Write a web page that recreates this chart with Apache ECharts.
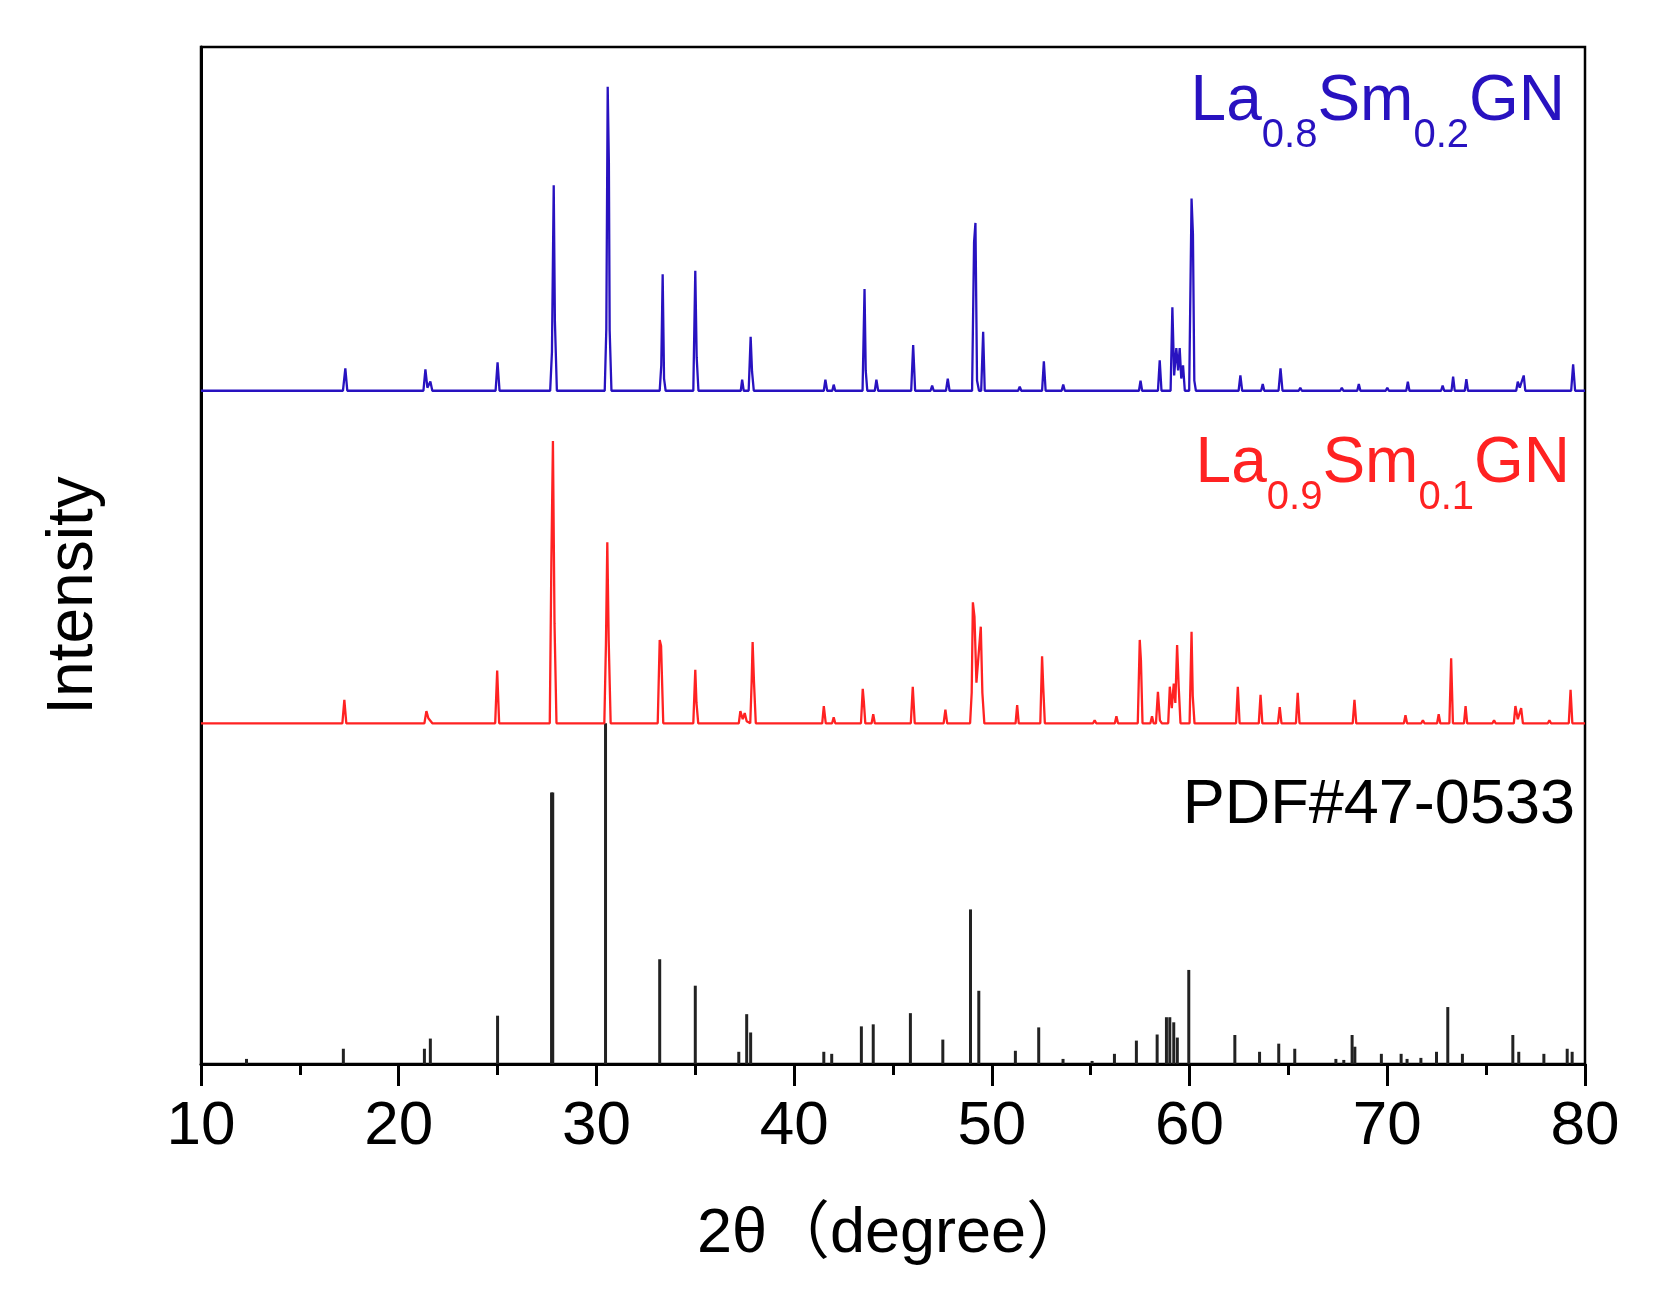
<!DOCTYPE html>
<html>
<head>
<meta charset="utf-8">
<script src="https://cdn.jsdelivr.net/npm/echarts@6/dist/echarts.min.js"></script>
<style>html,body{margin:0;padding:0;background:#fff;}#chart{width:1665px;height:1311px;}</style>
</head>
<body>
<div id="chart"></div>
<script>
// ---- data (2θ in degrees, intensity in arbitrary units above each pattern's baseline) ----
const xTicks = [10, 20, 30, 40, 50, 60, 70, 80];

// La0.8Sm0.2GN measured pattern [2θ, intensity]
const sm02Pattern = [
[10,0],[17.18,0],[17.3,2.2],[17.4,0],
[21.25,0],[21.35,2.1],[21.45,0.3],[21.6,0.9],[21.7,0],
[24.9,0],[25.0,2.8],[25.1,0],
[27.66,0],[27.75,3.8],[27.84,20.2],[27.9,6.8],[28.0,0],
[30.42,0],[30.5,6.1],[30.57,29.9],[30.63,22.4],[30.67,5.9],[30.76,0],
[33.2,0],[33.28,2.5],[33.35,11.45],[33.42,1.2],[33.5,0],
[34.9,0],[35.0,11.8],[35.07,3.3],[35.16,0],
[37.3,0],[37.37,1.1],[37.45,0],
[37.7,0],[37.8,5.3],[37.87,1.9],[37.96,0],
[41.5,0],[41.58,1.1],[41.67,0],
[41.93,0],[42.0,0.6],[42.08,0],
[43.46,0],[43.56,10.0],[43.62,2.0],[43.7,0],
[44.08,0],[44.16,1.1],[44.25,0],
[45.92,0],[46.02,4.5],[46.12,0],
[46.9,0],[46.98,0.5],[47.06,0],
[47.68,0],[47.77,1.2],[47.86,0],
[49.0,0],[49.1,14.6],[49.17,16.5],[49.25,1.0],[49.35,0],
[49.46,0],[49.56,5.8],[49.64,0],
[51.33,0],[51.41,0.4],[51.49,0],
[52.54,0],[52.63,2.9],[52.72,0],
[53.53,0],[53.61,0.6],[53.69,0],
[57.44,0],[57.52,1.0],[57.6,0],
[58.4,0],[58.49,3.0],[58.58,0],
[59.04,0],[59.13,8.2],[59.22,1.5],[59.33,4.2],[59.42,2.0],[59.5,4.2],[59.58,1.2],[59.67,2.5],[59.76,0],
[59.98,0],[60.1,18.9],[60.17,15.4],[60.24,1.0],[60.32,0],
[62.48,0],[62.57,1.5],[62.66,0],
[63.62,0],[63.7,0.65],[63.78,0],
[64.5,0],[64.6,2.2],[64.7,0],
[65.52,0],[65.6,0.3],[65.68,0],
[67.62,0],[67.7,0.3],[67.78,0],
[68.48,0],[68.56,0.65],[68.64,0],
[69.92,0],[70.0,0.3],[70.08,0],
[70.96,0],[71.04,0.9],[71.12,0],
[72.72,0],[72.8,0.5],[72.88,0],
[73.25,0],[73.33,1.4],[73.41,0],
[73.92,0],[74.0,1.15],[74.08,0],
[76.52,0],[76.6,0.9],[76.7,0.3],[76.9,1.5],[76.98,0],
[79.3,0],[79.4,2.6],[79.5,0],
[80,0]
];

// La0.9Sm0.1GN measured pattern [2θ, intensity]
const sm01Pattern = [
[10,0],[17.15,0],[17.25,2.3],[17.35,0],
[21.3,0],[21.4,1.2],[21.5,0.5],[21.6,0.6],[21.7,0],
[24.88,0],[24.98,5.2],[25.08,0],
[27.64,0],[27.72,15.7],[27.8,27.75],[27.88,9.8],[27.98,0],
[30.4,0],[30.48,7.7],[30.55,17.8],[30.62,8.2],[30.72,0],
[33.1,0],[33.2,8.2],[33.27,7.6],[33.38,0],
[34.9,0],[35.0,5.25],[35.06,2.0],[35.15,0],
[37.2,0],[37.28,1.2],[37.4,0.4],[37.5,1.0],[37.6,0.2],
[37.78,0],[37.85,4.0],[37.9,8.0],[37.97,4.0],[38.06,0],
[41.42,0],[41.5,1.7],[41.6,0],
[41.92,0],[42.0,0.6],[42.08,0],
[43.38,0],[43.47,3.4],[43.53,2.0],[43.6,0],
[43.92,0],[44.0,0.9],[44.08,0],
[45.9,0],[46.0,3.6],[46.1,0],
[47.56,0],[47.65,1.35],[47.74,0],
[48.9,0],[48.98,3.0],[49.04,11.9],[49.12,10.5],[49.22,4.0],[49.3,6.0],[49.44,9.5],[49.52,3.0],[49.62,0],
[51.2,0],[51.28,1.8],[51.36,0],
[52.45,0],[52.54,6.6],[52.6,3.5],[52.68,0],
[55.12,0],[55.2,0.3],[55.28,0],
[56.22,0],[56.3,0.7],[56.38,0],
[57.38,0],[57.48,8.2],[57.54,6.2],[57.62,0],
[58.02,0],[58.1,0.7],[58.18,0],
[58.3,0],[58.4,3.1],[58.5,0.3],[58.6,0],
[58.92,0],[59.0,3.6],[59.1,1.5],[59.2,3.9],[59.28,2.0],[59.37,7.7],[59.45,3.6],[59.54,0],
[60.0,0],[60.1,9.0],[60.16,2.7],[60.25,0],
[62.35,0],[62.44,3.6],[62.53,0],
[63.5,0],[63.59,2.8],[63.68,0],
[64.47,0],[64.56,1.6],[64.65,0],
[65.38,0],[65.47,3.0],[65.56,0],
[68.25,0],[68.34,2.3],[68.43,0],
[70.84,0],[70.92,0.8],[71.0,0],
[71.72,0],[71.8,0.3],[71.88,0],
[72.52,0],[72.6,0.9],[72.68,0],
[73.14,0],[73.23,6.4],[73.32,0],
[73.88,0],[73.96,1.7],[74.04,0],
[75.32,0],[75.4,0.3],[75.48,0],
[76.4,0],[76.48,1.7],[76.6,0.4],[76.77,1.5],[76.86,0],
[78.12,0],[78.2,0.3],[78.28,0],
[79.18,0],[79.27,3.3],[79.36,0],
[80,0]
];

// Reference card PDF#47-0533 line positions [2θ, intensity]
const pdfLines = [
[12.3,0.5],[17.2,1.5],[21.3,1.5],[21.6,2.5],[25.0,4.75],
[27.73,26.7],[27.79,26.7],[30.46,33.5],[33.2,10.3],[35.0,7.7],
[37.2,1.2],[37.6,4.9],[37.8,3.1],[41.5,1.2],[41.9,1.0],
[43.4,3.7],[44.0,3.9],[45.88,5.0],[47.52,2.4],[48.92,15.2],
[49.34,7.2],[51.19,1.3],[52.37,3.6],[53.6,0.5],[55.07,0.3],
[56.2,1.0],[57.31,2.3],[58.36,2.9],[58.83,4.6],[59.0,4.6],
[59.2,4.1],[59.38,2.6],[59.96,9.25],[62.29,2.85],[63.54,1.2],
[64.51,2.0],[65.32,1.5],[67.4,0.5],[67.8,0.4],[68.22,2.85],
[68.36,1.7],[69.7,1.0],[70.7,1.0],[71.0,0.5],[71.7,0.6],
[72.49,1.2],[73.06,5.6],[73.8,1.0],[76.35,2.85],[76.65,1.2],
[77.92,1.0],[79.1,1.5],[79.35,1.2]
];

// stacking offsets of the two measured patterns (axis units)
const SM02_OFFSET = 66.2;
const SM01_OFFSET = 33.5;

const FONT = "'Liberation Sans', Arial, 'Noto Sans CJK SC', sans-serif";
const BLUE = '#2812c0';
const RED = '#ff2222';

const chart = echarts.init(document.getElementById('chart'), null, {renderer: 'canvas'});

function label(parts, color) {
  return {
    text: parts.map(p => '{' + p[0] + '|' + p[1] + '}').join(''),
    rich: {
      m: {fontSize: 64, fontFamily: FONT, fill: color, color: color, lineHeight: 64, verticalAlign: 'top'},
      s: {fontSize: 40, fontFamily: FONT, fill: color, color: color, lineHeight: 86, verticalAlign: 'bottom'}
    }
  };
}

const option = {
  backgroundColor: '#fff',
  animation: false,
  grid: {left: 201, right: 80, top: 47, bottom: 247, show: true, borderColor: '#000', borderWidth: 2.5, containLabel: false, outerBoundsMode: 'none'},
  xAxis: {
    type: 'value', min: 10, max: 80, interval: 10,
    name: '2θ（degree）', nameLocation: 'middle', nameGap: 139,
    nameTextStyle: {fontSize: 63, color: '#000', fontFamily: FONT},
    axisLine: {show: true, onZero: false, lineStyle: {color: '#000', width: 3}},
    axisTick: {show: true, inside: false, length: 22, lineStyle: {color: '#000', width: 3}},
    minorTick: {show: true, splitNumber: 2, length: 11, lineStyle: {color: '#000', width: 3}},
    splitLine: {show: false},
    axisLabel: {fontSize: 62, color: '#000', fontFamily: FONT, margin: 32, showMinLabel: true, showMaxLabel: true,
      formatter: v => String(xTicks.find(t => t === v) ?? v)}
  },
  yAxis: {
    type: 'value', min: 0, max: 100,
    name: 'Intensity', nameLocation: 'middle', nameGap: 95,
    nameTextStyle: {fontSize: 64, color: '#000', fontFamily: FONT, padding: [0, 80, 0, 0]},
    axisLine: {show: true, lineStyle: {color: '#000', width: 3}},
    axisTick: {show: false}, axisLabel: {show: false}, splitLine: {show: false}
  },
  series: [
    {
      name: 'PDF#47-0533', type: 'bar', data: pdfLines, barWidth: 3,
      itemStyle: {color: '#222'}, z: 1
    },
    {
      name: 'La0.9Sm0.1GN', type: 'line', data: sm01Pattern.map(p => [p[0], p[1] + SM01_OFFSET]),
      showSymbol: false, symbol: 'none', lineStyle: {color: RED, width: 2.3}, itemStyle: {color: RED}, z: 2
    },
    {
      name: 'La0.8Sm0.2GN', type: 'line', data: sm02Pattern.map(p => [p[0], p[1] + SM02_OFFSET]),
      showSymbol: false, symbol: 'none', lineStyle: {color: BLUE, width: 2.3}, itemStyle: {color: BLUE}, z: 3
    }
  ],
  graphic: [
    {type: 'text', x: 1565, y: 70, z: 10, style: Object.assign(label([['m','La'],['s','0.8'],['m','Sm'],['s','0.2'],['m','GN']], BLUE), {align: 'right', verticalAlign: 'top'})},
    {type: 'text', x: 1570, y: 432, z: 10, style: Object.assign(label([['m','La'],['s','0.9'],['m','Sm'],['s','0.1'],['m','GN']], RED), {align: 'right', verticalAlign: 'top'})},
    {type: 'text', x: 1575, y: 774, z: 10, style: {text: 'PDF#47-0533', fontSize: 63, fontFamily: FONT, fill: '#000', lineHeight: 63, align: 'right', verticalAlign: 'top'}}
  ]
};
chart.setOption(option);
</script>
</body>
</html>
